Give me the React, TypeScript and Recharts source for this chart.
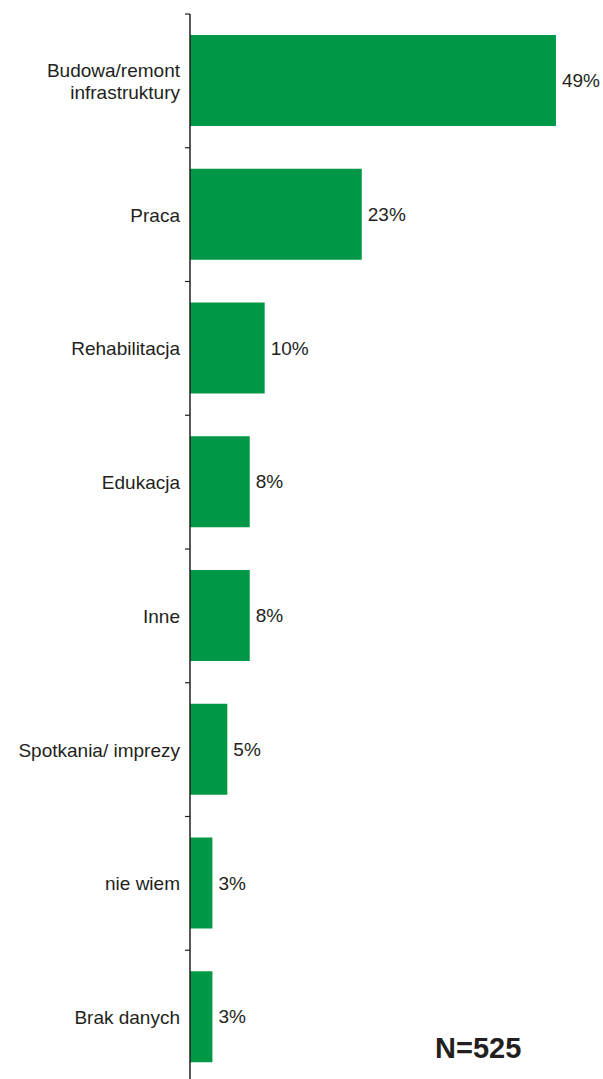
import { BarChart, Bar, XAxis, YAxis, LabelList } from "recharts";

const categories = [
  "Budowa/remont\ninfrastruktury",
  "Praca",
  "Rehabilitacja",
  "Edukacja",
  "Inne",
  "Spotkania/ imprezy",
  "nie wiem",
  "Brak danych",
];
const values = [49, 23, 10, 8, 8, 5, 3, 3];

const data = categories.map((name, i) => ({ name, value: values[i] }));

const AXIS_X = 190;
const TOP = 14;
const PLOT_H = 1070;
const BAND = PLOT_H / categories.length;
const INK = "#231f20";
const GREEN = "#009846";
const FONT = "'Liberation Sans', Arial, sans-serif";

function CategoryTick(props: any) {
  const { y, payload } = props;
  const lines = String(payload.value).split("\n");
  const lh = 22;
  const start = y - ((lines.length - 1) * lh) / 2;
  const boundary = y - BAND / 2;
  return (
    <g>
      <line x1={AXIS_X - 5} x2={AXIS_X} y1={boundary} y2={boundary} stroke={INK} strokeWidth={1.2} />
      <text x={AXIS_X - 10} y={start} textAnchor="end" dominantBaseline="central" fill={INK} fontSize={19} fontFamily={FONT}>
        {lines.map((l, i) => (
          <tspan key={i} x={AXIS_X - 10} y={start + i * lh}>
            {l}
          </tspan>
        ))}
      </text>
    </g>
  );
}

export default function App() {
  return (
    <div style={{ position: "absolute", left: 0, top: 0, width: 603, height: 1079, overflow: "hidden", background: "#fff" }}>
      <BarChart
        width={603}
        height={TOP + PLOT_H + 6}
        data={data}
        layout="vertical"
        margin={{ top: TOP, right: 0, left: 0, bottom: 6 }}
      >
        <XAxis type="number" domain={[0, 55.3]} hide />
        <YAxis
          type="category"
          dataKey="name"
          width={AXIS_X}
          axisLine={{ stroke: INK, strokeWidth: 1.5 }}
          tickLine={false}
          tick={<CategoryTick />}
          interval={0}
        />
        <Bar dataKey="value" fill={GREEN} barSize={91} isAnimationActive={false}>
          <LabelList
            dataKey="value"
            position="right"
            offset={6}
            formatter={(v: any) => `${v}%`}
            fill={INK}
            fontSize={19}
            fontFamily={FONT}
          />
        </Bar>
      </BarChart>
      <div
        style={{
          position: "absolute",
          left: 435,
          top: 1030,
          fontFamily: FONT,
          fontWeight: "bold",
          fontSize: 29,
          color: INK,
          lineHeight: "36px",
        }}
      >
        N=525
      </div>
    </div>
  );
}
